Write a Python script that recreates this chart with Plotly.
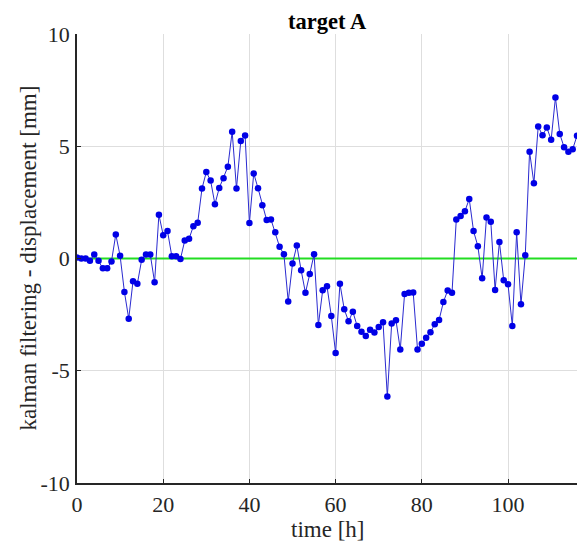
import plotly.graph_objects as go

time_h = list(range(0, 117))
displacement_mm = [
    0.04, 0.00, 0.00, -0.10, 0.18, -0.10, -0.43, -0.43, -0.13, 1.07,
    0.12, -1.49, -2.68, -1.01, -1.13, -0.06, 0.18, 0.18, -1.06, 1.95,
    1.04, 1.22, 0.10, 0.10, -0.02, 0.80, 0.88, 1.44, 1.59, 3.12,
    3.85, 3.47, 2.42, 3.14, 3.58, 4.09, 5.65, 3.12, 5.23, 5.48,
    1.58, 3.79, 3.13, 2.37, 1.71, 1.74, 1.17, 0.52, 0.19, -1.91,
    -0.22, 0.58, -0.52, -1.53, -0.69, 0.19, -2.96, -1.41, -1.24, -2.56,
    -4.21, -1.12, -2.26, -2.80, -2.37, -3.01, -3.26, -3.45, -3.17, -3.30,
    -3.05, -2.84, -6.15, -2.90, -2.75, -4.05, -1.58, -1.53, -1.52, -4.05,
    -3.80, -3.53, -3.28, -2.93, -2.74, -1.94, -1.42, -1.53, 1.74, 1.89,
    2.11, 2.65, 1.22, 0.55, -0.88, 1.83, 1.64, -1.40, 0.74, -0.97,
    -1.15, -3.01, 1.17, -2.04, 0.15, 4.76, 3.35, 5.88, 5.49, 5.83,
    5.29, 7.17, 5.55, 4.96, 4.75, 4.87, 5.47,
]
reference_x = [0, 116]
reference_y = [0, 0]

x_ticks = [0, 20, 40, 60, 80, 100]
x_tick_text = ["0", "20", "40", "60", "80", "100"]
y_ticks = [-10, -5, 0, 5, 10]
y_tick_text = ["-10", "-5", "0", "5", "10"]

title_text = "target A"
x_label = "time [h]"
y_label = "kalman filtering - displacement [mm]"

FONT = "Liberation Serif"
AX = "#262626"
GRID = "#dedede"

fig = go.Figure()
fig.add_trace(go.Scatter(
    x=reference_x, y=reference_y, mode="lines",
    line=dict(color="#22dd22", width=2), hoverinfo="skip", showlegend=False,
))
fig.add_trace(go.Scatter(
    x=time_h, y=displacement_mm, mode="lines+markers",
    line=dict(color="#2a2ad0", width=1),
    marker=dict(color="#0000e6", size=6.5, line=dict(width=0)),
    showlegend=False,
))

fig.update_layout(
    width=579, height=542,
    margin=dict(l=77, r=2, t=34, b=59),
    paper_bgcolor="white", plot_bgcolor="white",
    font=dict(family=FONT, size=22, color=AX),
    title=dict(text="<b>" + title_text + "</b>", x=0.565, xanchor="center",
               y=1 - 21.5 / 542, yanchor="middle",
               font=dict(family=FONT, size=22.5, color="black")),
    xaxis=dict(range=[0, 116], tickvals=x_ticks, ticktext=x_tick_text,
               showgrid=True, gridcolor=GRID, gridwidth=1,
               zeroline=False, showline=True, linecolor=AX, linewidth=1.5,
               ticks="inside", ticklen=4, tickcolor=AX, tickwidth=1,
               ticklabelstandoff=1,
               tickfont=dict(family=FONT, size=22, color=AX)),
    yaxis=dict(range=[-10, 10], tickvals=y_ticks, ticktext=y_tick_text,
               showgrid=True, gridcolor=GRID, gridwidth=1,
               zeroline=False, showline=True, linecolor=AX, linewidth=1.5,
               ticks="inside", ticklen=4, tickcolor=AX, tickwidth=1,
               ticklabelstandoff=1,
               tickfont=dict(family=FONT, size=22, color=AX)),
    annotations=[
        dict(text=x_label, xref="paper", yref="paper", x=0.5, y=(483 - 529) / 449,
             xanchor="center", yanchor="middle", showarrow=False,
             font=dict(family=FONT, size=23, color=AX)),
        dict(text=y_label, xref="paper", yref="paper", x=(28 - 77) / 500, y=0.5,
             xanchor="center", yanchor="middle", textangle=-90, showarrow=False,
             font=dict(family=FONT, size=23, color=AX)),
    ],
)

fig.write_html("out.html")
